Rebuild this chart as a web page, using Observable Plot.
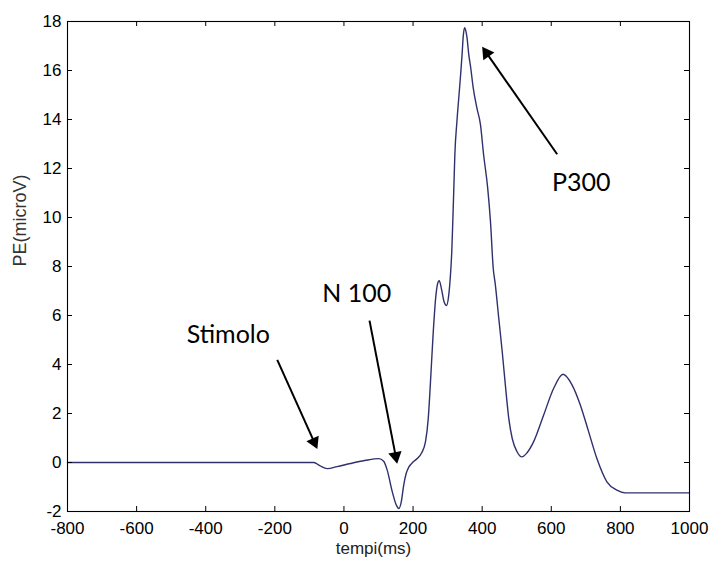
<!DOCTYPE html>
<html><head><meta charset="utf-8">
<script src="https://cdn.jsdelivr.net/npm/d3@7"></script>
<script src="https://cdn.jsdelivr.net/npm/@observablehq/plot@0.6"></script>
<style>body{margin:0;background:#fff}</style>
</head><body><div id="chart"></div>
<script>
const timeMs = [-800,-87,-70,-48,-20,19,60,101,115,125,140,152,159,166,173,180,188,200,212,225,236,244,250,258,266,272,276,282,290,297,303,308,312,315,318,321,327,333,338,342,345,349,353,356,361,367,374,385,395,404,416,424,432,438,448,458,467,477,487,501,515,530,549,578,607,634,660,684,708,732,761,790,814,1000];
const peMicroV = [0,0,-0.13,-0.25,-0.17,-0.04,0.08,0.16,0.05,-0.3,-1.2,-1.75,-1.88,-1.6,-0.92,-0.45,-0.18,0.02,0.16,0.4,0.85,1.8,3.18,5.22,6.8,7.35,7.42,7.1,6.55,6.41,6.8,7.6,8.6,9.84,11.2,12.58,13.93,15.0,15.9,16.68,17.36,17.75,17.6,17.36,16.68,16.1,15.3,14.45,13.8,12.58,11.2,9.84,7.93,7.27,5.89,4.53,3.18,1.8,0.98,0.44,0.23,0.4,0.85,1.94,3.03,3.6,3.17,2.35,1.26,0.16,-0.79,-1.13,-1.24,-1.24];

const xTicks = [-800,-600,-400,-200,0,200,400,600,800,1000];
const xTickLabels = ["-800","-600","-400","-200","0","200","400","600","800","1000"];
const yTicks = [-2,0,2,4,6,8,10,12,14,16,18];
const yTickLabels = ["-2","0","2","4","6","8","10","12","14","16","18"];

const annotLabels = ["Stimolo","N 100","P300"];
const annotX = [-455,-63,602];
const annotY = [4.87,6.55,11.08];
const arrowX1 = [-193,74,617];
const arrowY1 = [4.19,5.79,12.58];
const arrowX2 = [-77,154,400];
const arrowY2 = [0.55,-0.05,16.97];

const xLabel = "tempi(ms)";
const yLabel = "PE(microV)";

const W = 710, H = 563, mL = 67, mR = 21, mT = 21, mB = 52;
const innerW = W - mL - mR, innerH = H - mT - mB;
const headR = 5;

const data = timeMs.map((t, i) => ({t, v: peMicroV[i]}));
const annots = annotLabels.map((s, i) => ({s, x: annotX[i], y: annotY[i]}));

function opts(heads) {
  return {
    width: W, height: H,
    marginLeft: mL, marginRight: mR, marginTop: mT, marginBottom: mB,
    style: {fontFamily: "'Liberation Sans', Arial, sans-serif", fontSize: "17px", background: "#fff", color: "black"},
    x: {domain: [-800, 1000]},
    y: {domain: [-2, 18]},
    marks: [
      Plot.line(data, {x: "t", y: "v", stroke: "#30306c", strokeWidth: 1.4, curve: "monotone-x"}),
      Plot.frame({stroke: "black", strokeWidth: 1.1}),
      Plot.tickX(xTicks, {x: d => d, insetTop: innerH - 5, stroke: "black"}),
      Plot.tickX(xTicks, {x: d => d, insetBottom: innerH - 5, stroke: "black"}),
      Plot.tickY(yTicks, {y: d => d, insetRight: innerW - 5, stroke: "black"}),
      Plot.tickY(yTicks, {y: d => d, insetLeft: innerW - 5, stroke: "black"}),
      Plot.axisX({ticks: xTicks, tickFormat: d => xTickLabels[xTicks.indexOf(d)], tickSize: 0, tickPadding: 10, label: null, fontSize: 17, fill: "black"}),
      Plot.axisY({ticks: yTicks, tickFormat: d => yTickLabels[yTicks.indexOf(d)], tickSize: 0, tickPadding: 6, label: null, fontSize: 17, fill: "black"}),
      Plot.text([xLabel], {frameAnchor: "bottom", text: d => d, dx: -5, dy: 37, lineAnchor: "middle", fontSize: 17, fill: "#222"}),
      Plot.text([yLabel], {frameAnchor: "left", text: d => d, dx: -47, rotate: -90, lineAnchor: "middle", fontSize: 18, fill: "#333"}),
      Plot.text(annots, {x: "x", y: "y", text: "s", textAnchor: "start", lineAnchor: "bottom", fontFamily: "Lato, 'Open Sans', sans-serif", fontSize: 25, fill: "black"}),
      Plot.link(heads, {x1: "x1", y1: "y1", x2: "x", y2: "y", stroke: "black", strokeWidth: 2}),
      Plot.dot(heads, {x: "x", y: "y", symbol: "triangle", r: headR, fill: "black", stroke: "none", rotate: "rot"})
    ]
  };
}

const base = Plot.plot(opts([]));
const sx = base.scale("x"), sy = base.scale("y");
const heads = arrowX2.map((x2, i) => {
  const px1 = sx.apply(arrowX1[i]), py1 = sy.apply(arrowY1[i]);
  const px2 = sx.apply(x2), py2 = sy.apply(arrowY2[i]);
  const dx = px2 - px1, dy = py2 - py1, L = Math.hypot(dx, dy);
  const ux = dx / L, uy = dy / L;
  const back = 1.555 * headR;
  return {
    x1: arrowX1[i], y1: arrowY1[i],
    x: sx.invert(px2 - ux * back), y: sy.invert(py2 - uy * back),
    rot: Math.atan2(ux, -uy) * 180 / Math.PI
  };
});

document.getElementById("chart").appendChild(Plot.plot(opts(heads)));
</script>
</body></html>
